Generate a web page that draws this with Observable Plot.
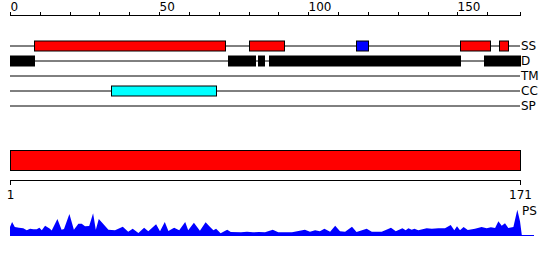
<!DOCTYPE html>
<html>
<head>
<meta charset="utf-8">
<script src="https://cdn.jsdelivr.net/npm/d3@7"></script>
<script src="https://cdn.jsdelivr.net/npm/@observablehq/plot@0.6"></script>
<style>
  html, body { margin: 0; padding: 0; background: white; }
  #chart svg { display: block; }
</style>
</head>
<body>
<div id="chart"></div>
<script>
// ---- data ----
const seqStart = 0;
const seqEnd = 171;
const tracks = ["SS", "D", "TM", "CC", "SP"];

const topTicks = [0, 10, 20, 30, 40, 50, 60, 70, 80, 90, 100, 110, 120, 130, 140, 150, 160, 171];
const topTickLabels = ["0", "", "", "", "", "50", "", "", "", "", "100", "", "", "", "", "150", "", ""];

const ssStart = [8, 80, 116, 151, 164];
const ssEnd   = [72, 92, 120, 161, 167];
const ssColor = ["#ff0000", "#ff0000", "#0000ff", "#ff0000", "#ff0000"];

const dStart = [0, 73, 83, 87, 159];
const dEnd   = [8, 82, 85, 151, 171];

const ccStart = [34];
const ccEnd   = [69];

const domainRange = [1, 171];
const bottomTicks = [1, 171];

const profileLabel = "PS";
const profilePos = [1.0,1.7,2.6,4.0,5.4,6.6,7.7,8.8,9.9,10.8,11.6,12.7,14.3,14.9,16.8,18.2,19.0,20.8,22.3,23.8,24.9,26.0,27.4,28.7,29.6,30.6,32.1,33.8,36.0,38.6,40.4,41.9,43.8,45.7,47.1,49.7,51.0,52.6,53.8,55.7,57.4,59.4,60.4,62.3,64.3,66.2,67.7,68.8,69.7,71.2,73.4,74.6,78,80,82,84,86,88.6,90.4,95,99.3,101,102.7,104.3,105.8,107.7,109.4,111,112.7,115,116.5,119.9,121.6,124.9,128,129.6,131.8,132.9,133.8,134.9,135.8,137.1,139.9,141.6,143.8,146,147.9,149.1,150,151,152.2,153.6,156,158.2,159.9,161.3,162.7,163.8,164.9,166,167.1,168.8,170.1,171,171.6];
const profileVal = [8,13,8,7.3,6.7,4.7,6.3,5.7,5.7,7.3,4.7,9.3,6.3,4.5,16,5.3,6,21,5.3,11.3,11.3,8.7,9,21.7,5.3,16,11,5.3,4.7,8.3,3.3,6.3,2,7.3,3.7,10.7,3.7,13,4,7.3,4.7,13,4.7,12.3,4.3,12.7,8,4.7,6.3,1.7,5.3,3,2.7,3.3,2.7,3,2.7,5.3,2.7,2.7,5.3,3.3,4.7,3.7,6.3,3.3,9.3,3.7,3.3,8.3,3,6.3,3.3,3.3,7.3,3.7,6.7,4.7,6.7,5.3,6.3,4.7,6.7,6.3,6.7,6.7,10,4.7,8.7,4.7,8,5,6.3,8,6.7,7.7,7,13.7,9.3,11.7,7,8,25.3,13.7,0];
const profileMax = 26;

// ---- tables ----
const features = [
  ...ssStart.map((s, i) => ({track: "SS", start: s, end: ssEnd[i], color: ssColor[i]})),
  ...dStart.map((s, i) => ({track: "D", start: s, end: dEnd[i], color: "#000000"})),
  ...ccStart.map((s, i) => ({track: "CC", start: s, end: ccEnd[i], color: "#00ffff"}))
];
const profile = profilePos.map((p, i) => ({pos: p, val: profileVal[i]}));
const tickLabel = new Map(topTicks.map((t, i) => [t, topTickLabels[i]]));

const font = {fontFamily: "DejaVu Sans", fontSize: "12px", background: "white", color: "black", overflow: "visible"};

// ---- top: ruler + tracks ----
const trackPlot = Plot.plot({
  width: 550, height: 120,
  marginLeft: 10, marginRight: 30, marginTop: 15, marginBottom: 0,
  style: font,
  x: {domain: [seqStart, seqEnd], range: [10, 520], round: true},
  y: {type: "band", domain: tracks, range: [37.5, 112.5], padding: 0, axis: null},
  marks: [
    Plot.frame({anchor: "top"}),
    Plot.axisX({anchor: "top", ticks: topTicks, tickFormat: d => tickLabel.get(d), tickSize: 4, tickPadding: 1, textAnchor: "start"}),
    Plot.ruleY(tracks, {y: d => d, x1: seqStart, x2: seqEnd, stroke: "black"}),
    Plot.barX(features, {x1: "start", x2: "end", y: "track", fill: "color", stroke: "black", insetTop: 3, insetBottom: 2, dx: 0.5}),
    Plot.text(tracks, {x: seqEnd, y: d => d, text: d => d, textAnchor: "start", dx: 0.5})
  ]
});

// ---- middle: domain bar + sequence axis ----
const midPlot = Plot.plot({
  width: 550, height: 85,
  marginLeft: 10, marginRight: 30, marginTop: 30, marginBottom: 25,
  style: font,
  x: {domain: domainRange, range: [10, 520], round: true},
  marks: [
    Plot.barX([domainRange], {x1: d => d[0], x2: d => d[1], fill: "#ff0000", stroke: "black", insetBottom: 10, dx: 0.5, dy: 0.5}),
    Plot.frame({anchor: "bottom"}),
    Plot.axisX({anchor: "bottom", ticks: bottomTicks, tickFormat: d => String(d), tickSize: 5, tickPadding: 5, textAnchor: "middle"})
  ]
});

// ---- bottom: profile ----
const profPlot = Plot.plot({
  width: 550, height: 55,
  marginLeft: 10, marginRight: 16, marginTop: 4, marginBottom: 25,
  style: font,
  x: {domain: domainRange, range: [10, 520], axis: null},
  y: {domain: [0, profileMax], range: [30, 4], axis: null},
  marks: [
    Plot.areaY(profile, {x: "pos", y: "val", fill: "#0000ff"}),
    Plot.ruleY([0], {stroke: "#0000ff"}),
    Plot.text([profileLabel], {x: () => domainRange[1], y: () => profileMax, text: d => d, textAnchor: "start", lineAnchor: "middle", dx: 1.5, dy: 2})
  ]
});

const c = document.getElementById("chart");
c.append(trackPlot, midPlot, profPlot);
</script>
</body>
</html>
